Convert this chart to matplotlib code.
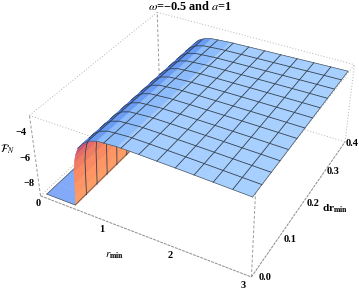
import numpy as np
import matplotlib
matplotlib.use("Agg")
import matplotlib.pyplot as plt

plt.rcParams["font.family"] = ["Liberation Serif", "DejaVu Sans"]
plt.rcParams["mathtext.fontset"] = "stix"

# surface: height along r_min at dr_min=0 and dr_min=0.4
r_vals = [0.00, 0.46, 0.47, 0.48, 0.49, 0.50, 0.52, 0.55, 0.60, 0.68, 0.78, 0.90, 1.20,
          1.50, 1.80, 2.10, 2.40, 2.70, 3.00]
z_front = [-8.9, -8.9, -8.9, -8.0, -7.1, -6.2, -5.5, -4.9, -4.3, -3.85, -3.5, -3.3, -3.2,
           -3.22, -3.26, -3.3, -3.35, -3.4, -3.45]
z_back = [-8.9, -8.9, -8.9, -8.0, -7.1, -6.2, -5.5, -4.9, -4.4, -4.0, -3.75, -3.6, -3.5,
          -3.46, -3.42, -3.38, -3.34, -3.3, -3.27]
r_colors = ["#82AAF8", "#FFA068", "#FF9C66", "#FF9464", "#F98A62", "#F07C62", "#E56C66", "#C85870",
            "#3E6EDC", "#4A80EA", "#6A9CF4", "#8CBCFC", "#A2CCFF", "#A6CFFF", "#A6CFFF", "#A6CFFF",
            "#A8D0FF", "#A8D0FF"]
mesh_r = [0.75, 1.00, 1.25, 1.50, 1.75, 2.00, 2.25, 2.50, 2.75]
mesh_dr = [0.033, 0.067, 0.100, 0.133, 0.167, 0.200, 0.233, 0.267, 0.300, 0.333, 0.367]
dr_vals = [0.0, 0.4]

r_ticks = ["0", "1", "2", "3"]
dr_ticks = ["0.0", "0.1", "0.2", "0.3", "0.4"]
z_ticks = ["\u22124", "\u22126", "\u22128"]

r_lim = (-0.06, 3.06)
dr_lim = (-0.008, 0.408)
z_lim = (-8.95, -2.85)

W, H = 359, 291
fig = plt.figure(figsize=(W / 100, H / 100), dpi=100)
# camera and axes box fitted to the corners of the reference box
S = 330.6
ax = fig.add_axes([29.2 / W, (H + 31.2 - S) / H, S / W, S / H], projection="3d")
ax.computed_zorder = False
ax.set_proj_type("persp", focal_length=0.488)
ax.view_init(elev=35.7, azim=-61.26)
ax.set_box_aspect((1, 0.99, 0.418), zoom=1.0)
ax.set_xlim(*r_lim, view_margin=0)
ax.set_ylim(*dr_lim, view_margin=0)
ax.set_zlim(*z_lim, view_margin=0)
ax.set_axis_off()


def height(r, dr):
    t = np.asarray(dr) / dr_vals[1]
    return (1 - t) * np.interp(r, r_vals, z_front) + t * np.interp(r, r_vals, z_back)


# floor, then the underside of the wall, then the top: painted in that order
split = r_vals.index(0.60)
rows = np.array(dr_vals + mesh_dr)
rows.sort()


def patch(i0, i1, zo):
    rr = np.array(r_vals[i0:i1 + 1])
    R, D = np.meshgrid(rr, rows)
    cols = np.array([matplotlib.colors.to_rgba(c) for c in r_colors[i0:i1]])
    fc = np.broadcast_to(cols, (len(rows) - 1, i1 - i0, 4)).copy()
    s = ax.plot_surface(R, D, height(R, D), facecolors=fc, rstride=1, cstride=1, shade=False,
                        linewidth=0.3, antialiased=True, zorder=zo)
    s.set_edgecolor(fc.reshape(-1, 4))


patch(0, 1, 2)
patch(1, split, 3)
patch(split, len(r_vals) - 1, 5)

line = dict(color="#34404c", lw=0.6)
edge = dict(color="#4a5560", lw=0.5)
wall_r = np.array(r_vals[1:split + 1])
top_r = np.array(r_vals[split:])
for d in mesh_dr:
    ax.plot(wall_r, np.full(len(wall_r), d), height(wall_r, d), zorder=4, **line)
    ax.plot(top_r, np.full(len(top_r), d), height(top_r, d), zorder=6, **line)
for m in mesh_r:
    ax.plot([m, m], dr_vals, height(m, np.array(dr_vals)), zorder=6, **line)
for d in dr_vals:
    ax.plot(top_r, np.full(len(top_r), d), height(top_r, d), zorder=6, **edge)
ax.plot([r_vals[-1]] * 2, dr_vals, height(r_vals[-1], np.array(dr_vals)), zorder=6, **edge)
# outline of the floor and foot of the wall
ax.plot([r_vals[0], r_vals[1]], [0, 0], [z_front[0]] * 2, zorder=4, **edge)
ax.plot([r_vals[0], r_vals[0]], dr_vals, [z_front[0]] * 2, zorder=2.5, **edge)
ax.plot([r_vals[1], r_vals[1]], dr_vals, [z_front[0]] * 2, zorder=4, **edge)

# box
x0, x1 = r_lim
y0, y1 = dr_lim
z0, z1 = z_lim
dot = dict(color="#b4b4b4", lw=0.7, ls=(0, (1, 2)))
dash = dict(color="#9a9a9a", lw=0.7, ls=(0, (3, 2)))
fine = dict(color="#8c8c8c", lw=0.7, ls=(0, (3, 1)))
ax.plot([x0, x0], [y0, y1], [z1, z1], zorder=1, **dot)
ax.plot([x0, x1], [y1, y1], [z1, z1], zorder=1, **dot)
ax.plot([x1, x1], [y0, y1], [z1, z1], zorder=1, **dot)
ax.plot([x0, x1], [y0, y0], [z1, z1], zorder=1, **dot)
ax.plot([x0, x1], [y1, y1], [z0, z0], zorder=1, **dot)
ax.plot([x0, x0], [y0, y1], [z0, z0], zorder=1, **dot)
ax.plot([x1, x1], [y1, y1], [z0, z1], zorder=1, **dot)
ax.plot([x0, x0], [y1, y1], [z0, z1], zorder=1, **dash)
ax.plot([x0, x0], [y0, y0], [z0, z1], zorder=1, **dash)
ax.plot([x1, x1], [y0, y0], [z0, z1], zorder=1, **dash)
ax.plot([x0, x1], [y0, y0], [z0, z0], zorder=1, **fine)
ax.plot([x1, x1], [y0, y1], [z0, z0], zorder=1, **fine)


def label(px, py, s, size=7.5, **kw):
    fig.text(px / W, 1 - py / H, s, ha="center", va="center", size=size, fontweight="bold", **kw)


for s, p in zip(r_ticks, [(38, 204), (102, 229), (170, 256), (243, 285)]):
    label(*p, s)
for s, p in zip(dr_ticks, [(265, 278), (290, 239), (313, 203), (333, 172), (352, 143)]):
    label(*p, s)
for s, p in zip(z_ticks, [(21, 133), (25, 159), (29, 183)]):
    label(*p, s)
label(115, 256, r"$\mathit{r}_{\mathbf{min}}$", size=8)
label(335, 209, r"dr$_{\mathbf{min}}$", size=8)
label(8, 149, r"$\mathcal{F}_N$", size=8)
label(190, 6, "$\\omega$=\u22120.5 and $a$=1", size=8.8)

fig.savefig("out.png", dpi=100)
